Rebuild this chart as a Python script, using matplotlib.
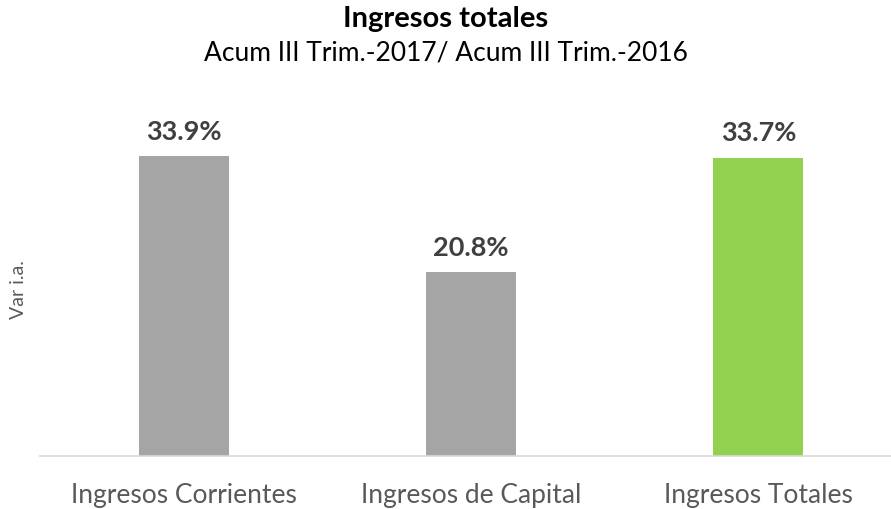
import matplotlib.pyplot as plt

# Datos
categorias = ['Ingresos Corrientes', 'Ingresos de Capital', 'Ingresos Totales']
variacion = [33.9, 20.8, 33.7]
colores = ['#A5A5A5', '#A5A5A5', '#92D050']

plt.rcParams['font.family'] = ['Lato', 'DejaVu Sans']

fig = plt.figure(figsize=(8.91, 5.10), dpi=100)
ax = fig.add_axes([40 / 891, 1 - 457 / 510, 862 / 891, 354 / 510])

x = range(len(categorias))
barras = ax.bar(x, variacion, width=0.313, color=colores)

for b, v in zip(barras, variacion):
    ax.annotate('{:.1f}%'.format(v), (b.get_x() + b.get_width() / 2, v),
                xytext=(0, 12.5), textcoords='offset points',
                ha='center', va='baseline', fontsize=19.5, fontweight='bold',
                color='#404040')

ax.set_xlim(-0.5, 2.5)
ax.set_ylim(0, 40)
ax.set_xticks(list(x))
ax.set_xticklabels(categorias, fontsize=19, color='#595959')
ax.tick_params(axis='x', length=0, pad=19)
ax.set_yticks([])
for s in ['top', 'right', 'left']:
    ax.spines[s].set_visible(False)
ax.spines['bottom'].set_color('#D9D9D9')
ax.spines['bottom'].set_linewidth(1.2)

fig.text(18 / 891, 1 - 290 / 510, 'Var i.a.', rotation=90, ha='center',
         va='center', fontsize=14, color='#595959')
fig.text(0.5, 1 - 19 / 510, 'Ingresos totales', ha='center', va='center',
         fontsize=21, fontweight='bold', color='black')
fig.text(0.5, 1 - 53 / 510, 'Acum III Trim.-2017/ Acum III Trim.-2016',
         ha='center', va='center', fontsize=19, color='black')

fig.savefig('out.png', dpi=100)
